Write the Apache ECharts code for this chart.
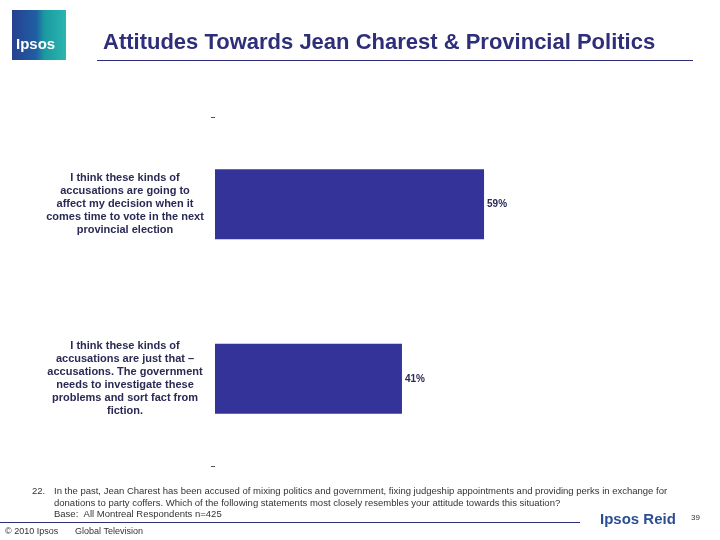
<!DOCTYPE html>
<html><head><meta charset="utf-8">
<script src="https://cdn.jsdelivr.net/npm/echarts@6/dist/echarts.min.js"></script>
<style>html,body{margin:0;padding:0;background:#fff}#c{width:720px;height:540px}</style>
</head><body><div id="c"></div>
<script>
var categories = [
  'I think these kinds of\naccusations are going to\naffect my decision when it\ncomes time to vote in the next\nprovincial election',
  'I think these kinds of\naccusations are just that \u2013\naccusations. The government\nneeds to investigate these\nproblems and sort fact from\nfiction.'
];
var values = [59, 41];
var valueLabels = ['59%', '41%'];
var titleText = 'Attitudes Towards Jean Charest & Provincial Politics';
var footnoteLines = [
  'In the past, Jean Charest has been accused of mixing politics and government, fixing judgeship appointments and providing perks in exchange for',
  'donations to party coffers. Which of the following statements most closely resembles your attitude towards this situation?',
  'Base:  All Montreal Respondents n=425'
];

var chart = echarts.init(document.getElementById('c'));
var FONT = 'Liberation Sans, Arial, sans-serif';
chart.setOption({
  animation: false,
  backgroundColor: '#ffffff',
  grid: {left: 215, right: 49, top: 117, bottom: 74},
  xAxis: {type: 'value', min: 0, max: 100, show: false},
  yAxis: [{
    type: 'category', data: categories, inverse: true,
    axisLine: {show: false}, axisTick: {show: false},
    axisLabel: {
      margin: 90, align: 'center',
      fontFamily: FONT, fontSize: 11, fontWeight: 'bold', color: '#2a2a55', lineHeight: 13
    }
  }, {
    type: 'value', min: 0, max: 1, interval: 1, position: 'left',
    axisLine: {show: false}, axisLabel: {show: false}, splitLine: {show: false},
    axisTick: {show: true, length: 4, lineStyle: {color: '#555', width: 1}}
  }],
  series: [{
    type: 'bar', yAxisIndex: 0, data: values, barWidth: '40%',
    itemStyle: {color: '#333399'},
    label: {
      show: true, position: 'right', distance: 3,
      formatter: function (p) { return valueLabels[p.dataIndex]; },
      fontFamily: FONT, fontSize: 10, fontWeight: 'bold', color: '#2a2a55'
    }
  }],
  graphic: [
    {type: 'rect', shape: {x: 12, y: 10, width: 54, height: 50},
     style: {fill: new echarts.graphic.LinearGradient(0, 0, 1, 0, [
       {offset: 0, color: '#27408f'}, {offset: 0.45, color: '#1f5fa3'}, {offset: 0.6, color: '#1a9aa0'}, {offset: 1, color: '#2bb5b0'}])}},
    {type: 'text', left: 16, top: 37,
     style: {text: 'Ipsos', fill: '#ffffff', font: 'bold 15px ' + FONT}},
    {type: 'text', left: 103, top: 32,
     style: {text: titleText, fill: '#2e2e7a', font: 'bold 22px ' + FONT}},
    {type: 'line', shape: {x1: 97, y1: 60.5, x2: 693, y2: 60.5},
     style: {stroke: '#2e2e7a', lineWidth: 1}},
    {type: 'text', left: 32, top: 486,
     style: {text: '22.', fill: '#333333', font: '9.5px ' + FONT}},
    {type: 'text', left: 54, top: 486,
     style: {text: footnoteLines.join('\n'), fill: '#333333', font: '9.5px ' + FONT, lineHeight: 11.5}},
    {type: 'line', shape: {x1: 0, y1: 522.5, x2: 580, y2: 522.5},
     style: {stroke: '#2e2e7a', lineWidth: 1}},
    {type: 'text', left: 600, top: 512,
     style: {text: 'Ipsos Reid', fill: '#2c4f94', font: 'bold 15px ' + FONT}},
    {type: 'text', left: 691, top: 514,
     style: {text: '39', fill: '#333333', font: '8px ' + FONT}},
    {type: 'text', left: 5, top: 527,
     style: {text: '\u00a9 2010 Ipsos', fill: '#333333', font: '9px ' + FONT}},
    {type: 'text', left: 75, top: 527,
     style: {text: 'Global Television', fill: '#333333', font: '9px ' + FONT}}
  ]
});
</script></body></html>
